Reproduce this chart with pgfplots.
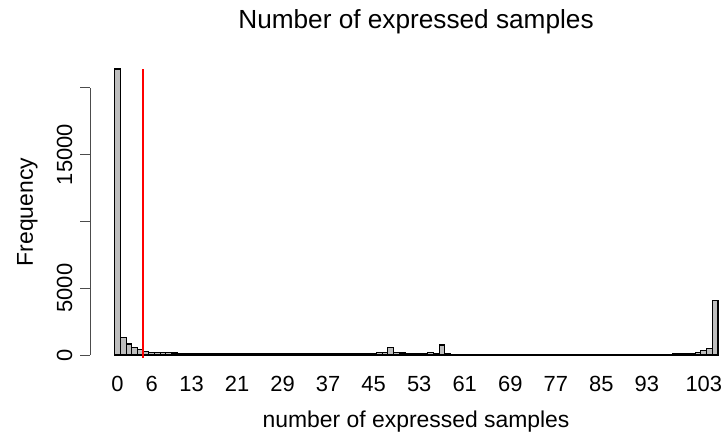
\documentclass[border=0pt]{standalone}
\usepackage{fontspec}
\setmainfont{Liberation Sans}
\usepackage{pgfplots}
\pgfplotsset{compat=1.18}
\definecolor{rgrey}{HTML}{BEBEBE}

% counts per number of expressed samples (0..105)
\pgfplotstableread{
n count
0 21400
1 1320
2 820
3 575
4 380
5 270
6 200
7 180
8 170
9 160
10 150
11 145
12 140
13 135
14 130
15 125
16 120
17 120
18 115
19 115
20 110
21 110
22 105
23 100
24 120
25 100
26 95
27 90
28 90
29 85
30 80
31 80
32 75
33 75
34 75
35 75
36 80
37 80
38 85
39 90
40 95
41 100
42 110
43 120
44 130
45 140
46 160
47 180
48 575
49 170
50 150
51 140
52 130
53 130
54 140
55 170
56 140
57 750
58 90
59 70
60 60
61 55
62 55
63 50
64 50
65 50
66 50
67 50
68 50
69 50
70 50
71 50
72 50
73 50
74 50
75 50
76 50
77 50
78 50
79 50
80 50
81 50
82 50
83 50
84 50
85 50
86 50
87 50
88 50
89 50
90 50
91 55
92 55
93 60
94 60
95 65
96 65
97 70
98 80
99 95
100 110
101 130
102 190
103 320
104 500
105 4100
}\counts

\begin{document}
\begin{tikzpicture}
\useasboundingbox (0,0) rectangle (727bp,434bp);
\begin{axis}[
  at={(90bp,76bp)},anchor=south west,
  scale only axis,width=630bp,height=289bp,
  xmin=-4.84,xmax=105.85,ymin=-225,ymax=21400,
  clip=false,
  axis line style={draw=none},
  tick pos=left,
  xtick=\empty,
  ytick={0,5000,10000,15000,20000},
  yticklabels={0,5000,,15000,},
  ytick align=outside,
  major tick length=10bp,
  ytick style={black!70,line width=0.8bp},
  scaled y ticks=false,
  tick label style={font=\fontsize{22}{24}\selectfont},
  yticklabel shift=8bp,
  yticklabel style={rotate=90,anchor=base,inner sep=0pt},
  title={Number of expressed samples},
  title style={font=\fontsize{26.3}{28}\selectfont,anchor=base,
    at={(axis description cs:0.5175,1.118)}},
  xlabel={number of expressed samples},
  xlabel style={font=\fontsize{23}{25}\selectfont,anchor=base,
    at={(axis description cs:0.5175,-0.242)}},
  ylabel={Frequency},
  ylabel style={font=\fontsize{23}{25}\selectfont,anchor=base,
    at={(axis description cs:-0.0905,0.505)}},
]
\addplot[ybar,bar width=1,fill=rgrey,draw=black,line width=1.1bp] table[x=n,y=count] {\counts};
\addplot[red,line width=1.4bp] coordinates {(4.5,-225) (4.5,21400)};
\draw[black!70,line width=0.8bp] (axis cs:-4.84,0) -- (axis cs:-4.84,20000);
% category labels under the bars (no tick marks, as in R's barplot)
\pgfplotsinvokeforeach{0,6,13,21,29,37,45,53,61,69,77,85,93,103}{
  \node[anchor=base,inner sep=0pt,font=\fontsize{22}{24}\selectfont]
    at ([yshift=-34bp]axis cs:#1,-225) {#1};
}
\end{axis}
\end{tikzpicture}
\end{document}
